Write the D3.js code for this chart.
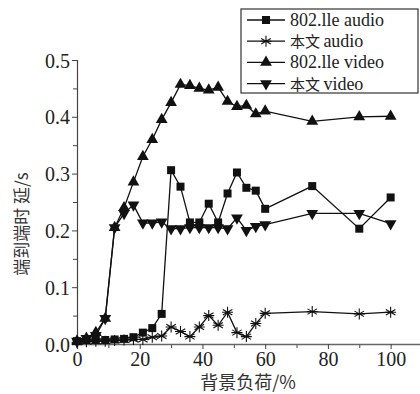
<!DOCTYPE html>
<html>
<head>
<meta charset="utf-8">
<script src="https://cdn.jsdelivr.net/npm/d3@7/dist/d3.min.js"></script>
<style>
  html,body{margin:0;padding:0;background:#fff;}
  svg{display:block;}
</style>
</head>
<body>
<svg id="chart" width="420" height="394" viewBox="0 0 420 394"></svg>
<script>
// background load (%)
const loads = [0,3,6,9,12,15,18,21,24,27,30,33,36,39,42,45,48,51,54,57,60,75,90,100];
// end-to-end delay (s)
const eAudio = [0.005,0.007,0.007,0.007,0.008,0.009,0.012,0.020,0.028,0.053,0.306,0.277,0.214,0.214,0.247,0.214,0.265,0.302,0.275,0.270,0.238,0.278,0.203,0.258];
const ourAudio = [0.003,0.004,0.005,0.005,0.006,0.007,0.008,0.008,0.012,0.014,0.030,0.022,0.013,0.030,0.050,0.033,0.056,0.020,0.013,0.036,0.054,0.057,0.053,0.056];
const eVideo = [0.005,0.010,0.020,0.045,0.205,0.240,0.285,0.330,0.360,0.395,0.425,0.457,0.455,0.450,0.447,0.452,0.427,0.418,0.420,0.405,0.410,0.392,0.400,0.401];
const ourVideo = [0.005,0.010,0.015,0.045,0.205,0.230,0.245,0.213,0.213,0.215,0.203,0.203,0.205,0.205,0.205,0.205,0.203,0.222,0.200,0.207,0.210,0.230,0.230,0.212];
const seriesNames = ['802.lle audio','本文 audio','802.lle video','本文 video'];
const xTicks = [0,20,40,60,80,100];
const yTicks = [0,0.1,0.2,0.3,0.4,0.5];

(function(){
  const svg = d3.select('#chart');
  const x = d3.scaleLinear().domain([0,110]).range([77,422]);
  const y = d3.scaleLinear().domain([0,0.5]).range([344,60]);
  const serif = '"Liberation Serif","DejaVu Serif",serif';
  const cjk = '"Noto Sans CJK SC","Noto Sans",sans-serif';

  // axes (minor ticks first, then major with labels)
  const gx = svg.append('g').attr('transform','translate(0,344)');
  gx.call(d3.axisBottom(x).tickValues(d3.range(10,110,20)).tickSize(4).tickFormat(''));
  gx.selectAll('.tick line').attr('stroke','#444');
  const gx2 = svg.append('g').attr('transform','translate(0,344)');
  gx2.call(d3.axisBottom(x).tickValues(xTicks).tickSize(5).tickPadding(3).tickFormat(d3.format('d')));
  gx2.select('.domain').attr('stroke','#666').attr('stroke-width',1.3);
  gx2.selectAll('.tick line').attr('stroke','#444');
  gx2.selectAll('.tick text').style('font-family',serif).style('font-size','20px').attr('fill','#222');

  const gy = svg.append('g').attr('transform','translate(77,0)');
  gy.call(d3.axisLeft(y).tickValues(d3.range(0.05,0.5,0.1)).tickSize(4).tickFormat(''));
  gy.selectAll('.tick line').attr('stroke','#444');
  const gy2 = svg.append('g').attr('transform','translate(77,0)');
  gy2.call(d3.axisLeft(y).tickValues(yTicks).tickSize(5).tickPadding(2).tickFormat(d3.format('.1f')));
  gy2.select('.domain').attr('stroke','#444').attr('stroke-width',1.2);
  gy2.selectAll('.tick line').attr('stroke','#444');
  gy2.selectAll('.tick text').attr('dy','0.35em').style('font-family',serif).style('font-size','20px').attr('fill','#222');

  // axis titles
  svg.append('text').attr('x',248).attr('y',389).attr('text-anchor','middle')
    .attr('font-family',cjk).attr('font-size',18).attr('fill','#333').text('背景负荷/%');
  svg.append('text').attr('transform','translate(28,224) rotate(-90)').attr('text-anchor','middle')
    .attr('font-family',cjk).attr('font-size',17).attr('fill','#333').text('端到端时 延/s');

  // markers
  const sym = {
    square: d3.symbol().type(d3.symbolSquare).size(64),
    up: d3.symbol().type(d3.symbolTriangle).size(60),
    down: d3.symbol().type(d3.symbolTriangle).size(60)
  };
  function marker(g, kind){
    if(kind==='star'){
      const r = 5.5;
      const p = [];
      [0,60,120].forEach(a=>{ const t=a*Math.PI/180; p.push(`M${-r*Math.sin(t)},${-r*Math.cos(t)}L${r*Math.sin(t)},${r*Math.cos(t)}`); });
      p.push(`M${-r},0L${r},0`);
      g.append('path').attr('d',p.join('')).attr('stroke','#111').attr('stroke-width',1.1).attr('fill','none');
    } else if(kind==='down'){
      g.append('path').attr('d',sym.down()).attr('transform','rotate(180)').attr('fill','#111');
    } else {
      g.append('path').attr('d',sym[kind]()).attr('fill','#111');
    }
  }

  const series = [
    {name:seriesNames[0], vals:eAudio, kind:'square'},
    {name:seriesNames[1], vals:ourAudio, kind:'star'},
    {name:seriesNames[2], vals:eVideo, kind:'up'},
    {name:seriesNames[3], vals:ourVideo, kind:'down'}
  ];
  const line = d3.line().x(d=>x(d[0])).y(d=>y(d[1]));

  series.forEach(s=>{
    const pts = loads.map((l,i)=>[l,s.vals[i]]);
    svg.append('path').datum(pts).attr('d',line).attr('fill','none').attr('stroke','#111').attr('stroke-width',1.3);
    svg.append('g').selectAll('g').data(pts).enter().append('g')
      .attr('transform',d=>`translate(${x(d[0])},${y(d[1])})`)
      .each(function(){ marker(d3.select(this), s.kind); });
  });

  // legend
  const lg = svg.append('g').attr('transform','translate(241,9)');
  lg.append('rect').attr('width',177).attr('height',84).attr('fill','#fff').attr('stroke','#333').attr('stroke-width',1.2);
  series.forEach((s,i)=>{
    const row = lg.append('g').attr('transform',`translate(0,${11+i*21.2})`);
    row.append('line').attr('x1',6).attr('x2',44).attr('stroke','#111').attr('stroke-width',1.3);
    marker(row.append('g').attr('transform','translate(25,0)'), s.kind);
    const parts = s.name.split(' ');
    const t = row.append('text').attr('x',49).attr('y',6).attr('font-size',18).attr('fill','#222');
    if(/本文/.test(parts[0])){
      t.append('tspan').attr('font-family',cjk).attr('font-size',15).text(parts[0]+' ');
      t.append('tspan').attr('font-family',serif).text(parts[1]);
    } else {
      t.attr('font-family',serif).text(s.name);
    }
  });
})();
</script>
</body>
</html>
